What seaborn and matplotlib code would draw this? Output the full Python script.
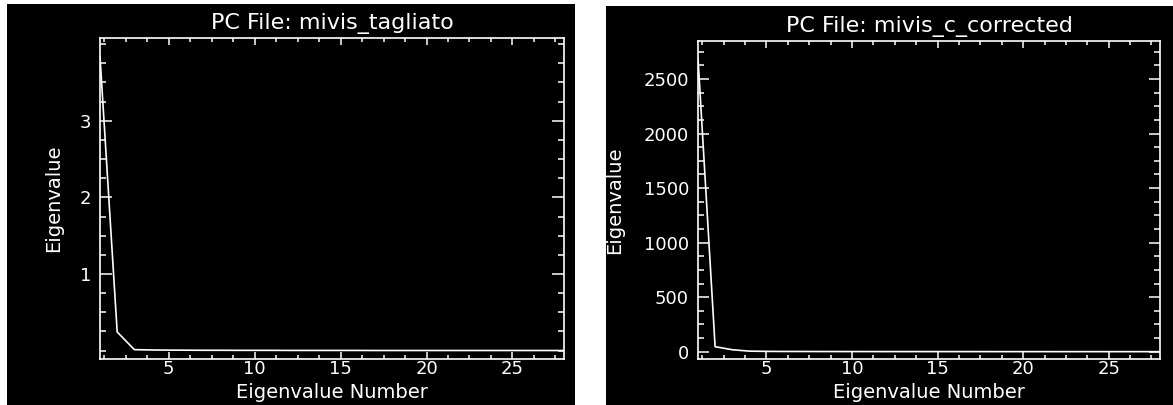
import numpy as np
import pandas as pd
import matplotlib
matplotlib.use("Agg")
import matplotlib.pyplot as plt
from matplotlib.ticker import MultipleLocator, FixedLocator
import seaborn as sns

# ---- data ----
eig_number = list(range(1, 29))
left_title = "PC File: mivis_tagliato"
left_values = [3.835, 0.243, 0.012, 0.008, 0.006, 0.005, 0.004, 0.004, 0.003, 0.003,
               0.003, 0.002, 0.002, 0.002, 0.002, 0.002, 0.001, 0.001, 0.001, 0.001,
               0.001, 0.001, 0.001, 0.001, 0.001, 0.001, 0.001, 0.001]
right_title = "PC File: mivis_c_corrected"
right_values = [2690, 46, 18, 5, 3, 2, 2, 1.5, 1.5, 1.2,
                1.1, 1.0, 1.0, 0.9, 0.9, 0.8, 0.8, 0.7, 0.7, 0.6,
                0.6, 0.5, 0.5, 0.5, 0.4, 0.4, 0.4, 0.3]
left_yticks = [1, 2, 3]
right_yticks = [0, 500, 1000, 1500, 2000, 2500]
xticks = [5, 10, 15, 20, 25]

sns.set_theme(style="ticks")
plt.rcParams["font.family"] = ["DejaVu Sans"]

W, H = 1173, 405
fig = plt.figure(figsize=(W / 100, H / 100), dpi=100)
fig.patch.set_facecolor("white")

def px_rect(x0, x1, ytop, ybot):
    return [x0 / W, (H - ybot) / H, (x1 - x0) / W, (ybot - ytop) / H]

# black window backgrounds
for rect in (px_rect(7, 575, 4, 405), px_rect(606, 1173, 6, 405)):
    bg = fig.add_axes(rect)
    bg.set_facecolor("black")
    bg.set_xticks([]); bg.set_yticks([])
    for s in bg.spines.values():
        s.set_visible(False)

FS_TICK = 13
FS_LAB = 14
FS_TITLE = 16
fg = "white"

def style_axes(ax, title, yticks, yminor, ylim, ymaj_len, height_px):
    ax.set_facecolor("black")
    ax.set_xlim(1, 28)
    ax.set_ylim(*ylim)
    ax.xaxis.set_major_locator(FixedLocator(xticks))
    ax.xaxis.set_minor_locator(MultipleLocator(1.25))
    ax.yaxis.set_major_locator(FixedLocator(yticks))
    ax.yaxis.set_minor_locator(MultipleLocator(yminor))
    for s in ax.spines.values():
        s.set_visible(True)
        s.set_color(fg)
        s.set_linewidth(1.2)
    ax.tick_params(axis="x", which="major", direction="in", length=5, width=1.1,
                   color=fg, labelcolor=fg, labelsize=FS_TICK, pad=1, top=True)
    ax.tick_params(axis="x", which="minor", direction="in", length=3, width=1.1,
                   color=fg, top=True)
    ax.tick_params(axis="y", which="major", direction="in", length=ymaj_len, width=1.1,
                   color=fg, labelcolor=fg, labelsize=FS_TICK, pad=6.5, right=True)
    ax.tick_params(axis="y", which="minor", direction="in", length=4.3, width=1.1,
                   color=fg, right=True)
    ax.set_title(title, color=fg, fontsize=FS_TITLE, pad=6.5)
    ax.set_xlabel("Eigenvalue Number", color=fg, fontsize=FS_LAB)
    ax.xaxis.set_label_coords(0.5, -(382.5 - 359) / height_px)
    ax.set_ylabel("Eigenvalue", color=fg, fontsize=FS_LAB)
    ax.grid(False)

ax1 = fig.add_axes(px_rect(100, 564, 38, 359))
df1 = pd.DataFrame({"n": eig_number, "v": left_values})
sns.lineplot(data=df1, x="n", y="v", ax=ax1, color=fg, linewidth=1.2)
style_axes(ax1, left_title, left_yticks, 0.25, (-0.11, 4.08), 8.6, 321)
ax1.yaxis.set_label_coords(-(100 - 63) / 464, 0.5)

ax2 = fig.add_axes(px_rect(698, 1160, 41, 359))
df2 = pd.DataFrame({"n": eig_number, "v": right_values})
sns.lineplot(data=df2, x="n", y="v", ax=ax2, color=fg, linewidth=1.2)
style_axes(ax2, right_title, right_yticks, 125, (-67, 2848), 8.0, 318)
ax2.yaxis.set_label_coords(-(698 - 624) / 462, 0.5)

fig.savefig("out.png", dpi=100, facecolor=fig.get_facecolor())
